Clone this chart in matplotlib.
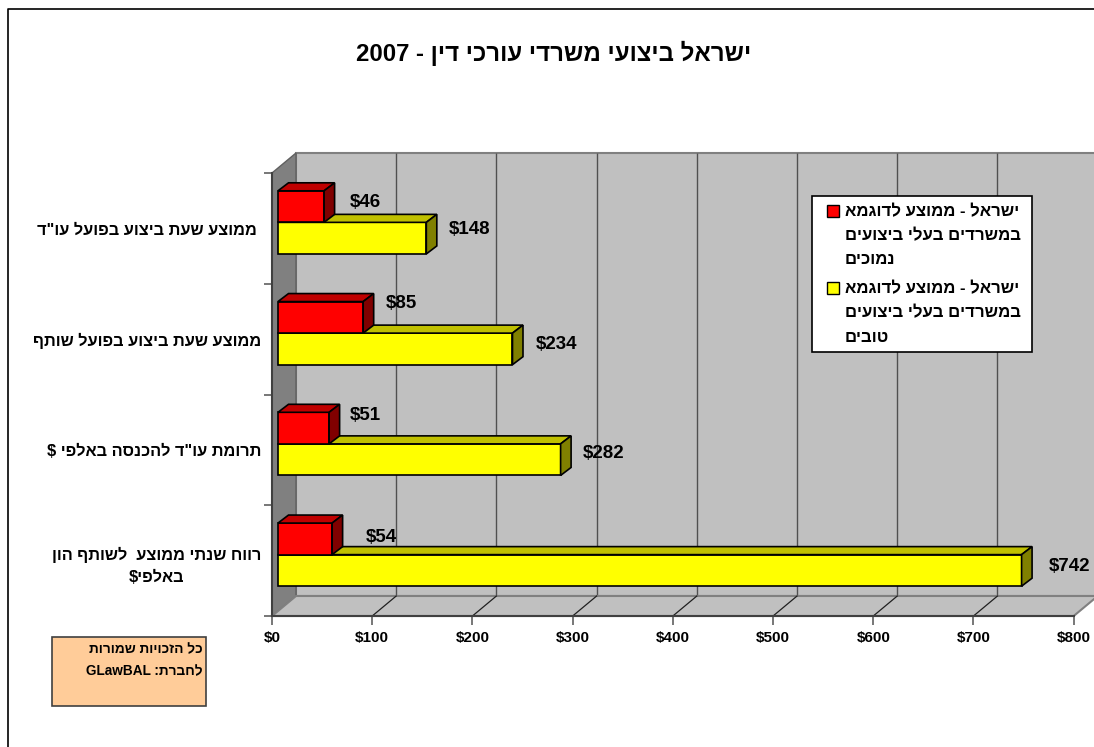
import re
import matplotlib
matplotlib.use('Agg')
import matplotlib.pyplot as plt
from matplotlib.patches import Polygon, Rectangle
from matplotlib.transforms import Affine2D, IdentityTransform

plt.rcParams['font.family'] = ['Liberation Sans', 'DejaVu Sans']
plt.rcParams['font.weight'] = 'bold'

# data, bottom category first
categories = ['רווח שנתי ממוצע  לשותף הון\nבאלפי$',
              'תרומת עו"ד להכנסה באלפי $',
              'ממוצע שעת ביצוע בפועל שותף',
              ' ממוצע שעת ביצוע בפועל עו"ד']
weak_values = [54, 51, 85, 46]
good_values = [742, 282, 234, 148]
x_ticks = [0, 100, 200, 300, 400, 500, 600, 700, 800]
title = 'ישראל ביצועי משרדי עורכי דין - 2007'
weak_legend = ['ישראל - ממוצע לדוגמא', 'במשרדים בעלי ביצועים', 'נמוכים']
good_legend = ['ישראל - ממוצע לדוגמא', 'במשרדים בעלי ביצועים', 'טובים']
note = ['כל הזכויות שמורות', 'לחברת: GLawBAL']

# label nudges in pixels (right, up), the original places them unevenly
weak_nudge = [(34, 1), (21, 13), (23, 14), (26, 4)]
good_nudge = [(27, 4), (22, 6), (23, 4), (22, 9)]

W, H = 1094, 747
DEPTH = (24, 20)      # floor and side wall depth
BAR_PLANE = (6, 6)    # where the bars stand inside that depth
BAR_DEPTH = (10.5, 8)
BAR_H = 0.285


def rtl(text):
    # matplotlib has no bidi, so put the letters in visual order
    lines = []
    for line in text.split('\n'):
        rev = line[::-1]
        lines.append(re.sub(r'[A-Za-z0-9]+', lambda m: m.group(0)[::-1], rev))
    return '\n'.join(lines)


def fx(x):
    return x / W


def fy(y):
    return 1 - y / H


fig = plt.figure(figsize=(W / 100, H / 100), dpi=100, facecolor='white')
ax = fig.add_axes([fx(272), fy(616), 801.7 / W, 443 / H])
ax.patch.set_visible(False)
ax.set_xlim(0, 800)
ax.set_ylim(0, 4)
ax.set_autoscale_on(False)

identity = IdentityTransform()
back = ax.transData + Affine2D().translate(*DEPTH)
plane = ax.transData + Affine2D().translate(*BAR_PLANE)


def px(x, y, dx=0, dy=0):
    p = ax.transData.transform((x, y))
    return (p[0] + dx, p[1] + dy)


def face(points, color, edge, lw=1.0, z=1.0):
    ax.add_patch(Polygon(points, closed=True, facecolor=color, edgecolor=edge,
                         linewidth=lw, transform=identity, clip_on=False,
                         zorder=z, joinstyle='miter'))


# outer chart border, only left and top are inside the picture
fig.add_artist(plt.Line2D([fx(7.5), fx(7.5), 1], [0, fy(8.5), fy(8.5)], color='black',
                          linewidth=1.2))

# back wall, side wall, floor
ax.add_patch(Rectangle((0, 0), 800, 4, transform=back, facecolor='#C0C0C0',
                       edgecolor='#808080', linewidth=1.5, clip_on=False, zorder=0.5))
face([px(0, 0), px(0, 4), px(0, 4, *DEPTH), px(0, 0, *DEPTH)], '#808080', '#606060', 1.0, 0.7)
face([px(0, 0), px(800, 0), px(800, 0, *DEPTH), px(0, 0, *DEPTH)], '#C0C0C0', '#808080', 1.5, 0.7)

ax.vlines(x_ticks[1:], 0, 4, transform=back, colors='#505050', linewidth=1.0,
          clip_on=False, zorder=0.6)
for t in x_ticks[1:-1]:
    a, b = px(t, 0), px(t, 0, *DEPTH)
    ax.plot([a[0], b[0]], [a[1], b[1]], transform=identity, color='#202020',
            linewidth=0.9, clip_on=False, zorder=0.8)


def bars_3d(values, offset, color, top_color, side_color, z):
    ys = [i + 0.5 + offset for i in range(len(values))]
    rects = ax.barh(ys, values, height=BAR_H, color=color, edgecolor='black',
                    linewidth=1.2, transform=plane, clip_on=False, zorder=z)
    for r in rects:
        x0, y0, w, h = r.get_x(), r.get_y(), r.get_width(), r.get_height()
        sx, sy = BAR_PLANE
        dx, dy = BAR_DEPTH
        face([px(x0, y0 + h, sx, sy), px(x0 + w, y0 + h, sx, sy),
              px(x0 + w, y0 + h, sx + dx, sy + dy), px(x0, y0 + h, sx + dx, sy + dy)],
             top_color, 'black', 1.2, z)
        face([px(x0 + w, y0, sx, sy), px(x0 + w, y0 + h, sx, sy),
              px(x0 + w, y0 + h, sx + dx, sy + dy), px(x0 + w, y0, sx + dx, sy + dy)],
             side_color, 'black', 1.2, z)
    return ys


good_y = bars_3d(good_values, -BAR_H / 2, '#FFFF00', '#C0C000', '#808000', 3)
weak_y = bars_3d(weak_values, BAR_H / 2, '#FF0000', '#C00000', '#800000', 4)

for vals, ys, nudges in ((good_values, good_y, good_nudge), (weak_values, weak_y, weak_nudge)):
    for v, y, (nx, ny) in zip(vals, ys, nudges):
        p = px(v, y, BAR_PLANE[0] + nx, BAR_PLANE[1] + ny)
        ax.text(p[0], p[1], f'${v}', transform=identity, fontsize=13.5, ha='left',
                va='center', color='black', zorder=6, clip_on=False)

# axes
for name in ('top', 'right'):
    ax.spines[name].set_visible(False)
for name in ('left', 'bottom'):
    ax.spines[name].set_color('#404040')
    ax.spines[name].set_linewidth(1.5)
ax.set_xticks(x_ticks)
ax.set_xticklabels([f'${t}' for t in x_ticks], fontsize=11)
ax.tick_params(axis='x', length=6.5, width=1.2, color='#606060', pad=4)
ax.set_yticks(range(5))
ax.set_yticklabels([])
ax.tick_params(axis='y', which='major', length=6, width=1.2, color='#606060')
ax.set_yticks([i + 0.5 for i in range(len(categories))], minor=True)
ax.set_yticklabels([rtl(c) for c in categories], minor=True, fontsize=11.8,
                   multialignment='center', linespacing=1.6)
ax.tick_params(axis='y', which='minor', length=0, pad=7.5)

# title
fig.text(fx(553.5), fy(53), rtl(title), fontsize=17.3, ha='center', va='center', color='black')

# legend, lines sit left aligned like the picture
fig.add_artist(Rectangle((fx(812), fy(352)), 220 / W, 156 / H, transform=fig.transFigure,
                         facecolor='white', edgecolor='black', linewidth=1.2, zorder=7))
legend_rows = [(weak_legend, '#FF0000', 212), (good_legend, '#FFFF00', 289)]
for lines, color, top in legend_rows:
    fig.add_artist(Rectangle((fx(827), fy(top + 5)), 12 / W, 12 / H, transform=fig.transFigure,
                             facecolor=color, edgecolor='black', linewidth=1.0, zorder=8))
    for i, line in enumerate(lines):
        fig.text(fx(845), fy(top + i * 24), rtl(line), fontsize=12.1, ha='left',
                 va='center', color='black', zorder=8)

# copyright note
fig.add_artist(Rectangle((fx(52), fy(706)), 154 / W, 69 / H, transform=fig.transFigure,
                         facecolor='#FFCC99', edgecolor='#404040', linewidth=1.2))
for i, line in enumerate(note):
    fig.text(fx(203), fy(649 + i * 22), rtl(line), fontsize=9.8, ha='right', va='center',
             color='black')

fig.savefig('out.png', dpi=100)
